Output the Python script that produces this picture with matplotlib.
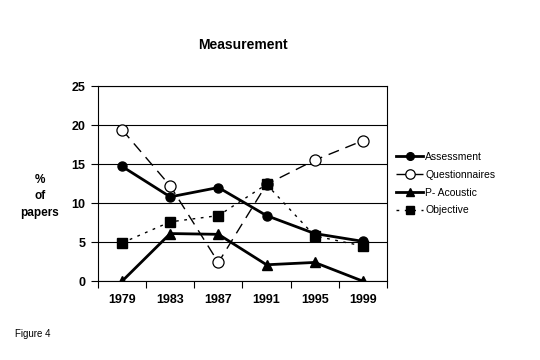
import numpy as np
import matplotlib
matplotlib.use("Agg")
import matplotlib.pyplot as plt

years = ["1979", "1983", "1987", "1991", "1995", "1999"]
assessment = [14.7, 10.8, 12.0, 8.4, 6.1, 5.1]
questionnaires = [19.4, 12.2, 2.4, 12.4, 15.5, 18.0]
p_acoustic = [0.0, 6.1, 6.0, 2.1, 2.4, 0.0]
objective = [4.9, 7.6, 8.4, 12.4, 5.8, 4.5]
yticks = [0, 5, 10, 15, 20, 25]

plt.rcParams.update({"font.family": "Liberation Sans"})

fig = plt.figure(figsize=(5.4, 3.6), dpi=100)
ax = fig.add_axes([0.1815, 0.219, 0.535, 0.542])
x = np.arange(len(years))

ax.plot(x, questionnaires, color="black", lw=1.0, ls=(0, (8, 5)), marker="o", ms=8,
        mfc="white", mec="black", mew=0.9, label="Questionnaires", zorder=3)
ax.plot(x, objective, color="black", lw=1.0, ls=(0, (2, 4)), marker="s", ms=6.5,
        mfc="black", mec="black", label="Objective", zorder=4)
ax.plot(x, assessment, color="black", lw=2.0, marker="o", ms=6.5,
        mfc="black", mec="black", label="Assessment", zorder=5)
ax.plot(x, p_acoustic, color="black", lw=2.0, marker="^", ms=7,
        mfc="black", mec="black", label="P- Acoustic", zorder=5)

ax.set_xlim(-0.5, len(years) - 0.5)
ax.set_ylim(0, 25)
ax.set_yticks(yticks)
ax.set_yticklabels([str(v) for v in yticks], fontsize=9, fontweight="bold")
ax.set_xticks(x)
ax.set_xticklabels(years, fontsize=9, fontweight="bold")
ax.tick_params(axis="x", which="major", length=0, pad=9)
ax.set_xticks(np.arange(-0.5, len(years), 1.0), minor=True)
ax.tick_params(axis="x", which="minor", length=5, direction="out", width=0.8)
ax.tick_params(axis="y", length=5, direction="out", width=0.8, pad=4)
ax.grid(axis="y", color="black", lw=0.8)
ax.set_axisbelow(True)
for s in ax.spines.values():
    s.set_linewidth(0.8)

ax.set_title("Measurement", fontsize=10, fontweight="bold", pad=27)

fig.text(0.074, 0.455, "%\nof\npapers", ha="center", va="center", fontsize=8.5,
         fontweight="bold", linespacing=1.5)
fig.text(0.028, 0.072, "Figure 4", fontsize=7, ha="left", va="center")

h, l = ax.get_legend_handles_labels()
order = [2, 0, 3, 1]
ax.legend([h[i] for i in order], [l[i] for i in order], loc="center left",
          bbox_to_anchor=(1.0, 0.5), frameon=False, fontsize=7.5, handlelength=2.6,
          handletextpad=0.2, labelspacing=0.75, markerscale=0.85)

fig.savefig("out.png", dpi=100)
